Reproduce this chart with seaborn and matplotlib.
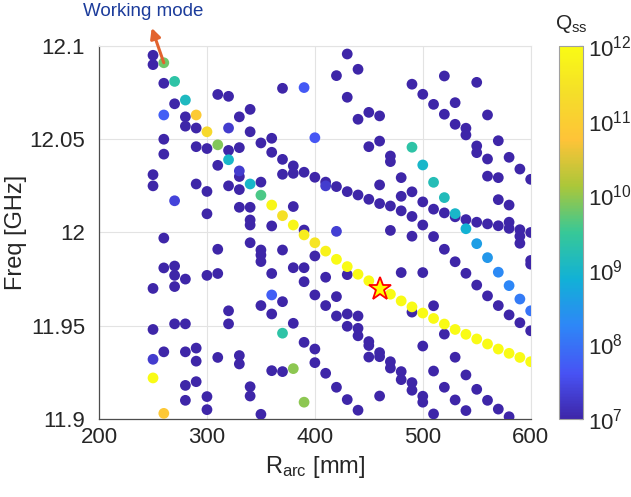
import matplotlib
matplotlib.use("Agg")
import matplotlib.pyplot as plt
import pandas as pd
import seaborn as sns
from matplotlib.colors import LinearSegmentedColormap, LogNorm
from matplotlib.cm import ScalarMappable

# working mode branch (arrow + star), log10(Q_ss)
wm_r = [260, 270, 280, 290, 300, 310, 320, 330, 340, 350, 360, 370, 380, 390, 400, 410,
        420, 430, 440, 450, 460, 470, 480, 490, 500, 510, 520, 530, 540, 550, 560, 570,
        580, 590, 600]
wm_f = [12.091, 12.081, 12.071, 12.063, 12.054, 12.047, 12.039, 12.033, 12.026, 12.020,
        12.0147, 12.009, 12.004, 11.9987, 11.9945, 11.990, 11.9856, 11.9817, 11.9776,
        11.9741, 11.9697, 11.9669, 11.9633, 11.9601, 11.9568, 11.9539, 11.9509, 11.948,
        11.9454, 11.9429, 11.9402, 11.9375, 11.9352, 11.933, 11.9307]
wm_logq = [9.8, 9.35, 9.1, 10.9, 11.25, 9.9, 9.0, 7.3, 9.0, 9.6, 11.9, 11.4, 11.9, 11.7,
           11.5, 11.8, 12, 12, 12, 12, 12, 12, 12, 12, 12, 12, 12, 12, 12, 12, 12, 12,
           12, 12, 12]

# second branch on the right (cyan -> blue)
hy_r = [490, 500, 510, 520, 530, 540, 550, 560, 570, 580, 590, 600]
hy_f = [12.0457, 12.0362, 12.0269, 12.0187, 12.0101, 12.002, 11.994, 11.9865, 11.9787,
        11.9715, 11.9643, 11.958]
hy_logq = [9.35, 9.0, 9.2, 9.15, 9.0, 8.9, 8.6, 8.5, 8.3, 8.25, 8.1, 8.0]

# single points above the floor
ex_r = [250, 250, 260, 260, 270, 320, 360, 370, 380, 390, 390, 400, 410, 420]
ex_f = [11.932, 11.922, 12.063, 11.903, 12.017, 12.056, 11.9665, 11.946, 11.927, 11.909,
        12.0777, 12.0508, 12.025, 12.0006]
ex_logq = [7.3, 12.0, 7.75, 10.85, 7.4, 7.3, 7.75, 9.35, 9.95, 9.95, 7.7, 7.65, 7.3, 7.35]

# low Q modes (at or below 1e7), one list per R_arc
low_cols = [250, 260, 270, 280, 290, 300, 310, 320, 330, 340, 350, 360, 370, 380, 390, 400,
            410, 420, 430, 440, 450, 460, 470, 480, 490, 500, 510, 520, 530, 540, 550, 560,
            570, 580, 590, 600]
low_f = [
    [12.095, 12.090, 12.031, 12.025, 11.970, 11.948],
    [12.080, 12.050, 12.042, 11.997, 11.981, 11.936],
    [12.069, 11.982, 11.977, 11.971, 11.951],
    [12.062, 12.057, 11.975, 11.951, 11.936, 11.918, 11.910],
    [12.056, 12.046, 12.026, 11.938, 11.931, 11.920],
    [12.045, 12.022, 12.010, 11.977, 11.912, 11.905],
    [12.074, 12.036, 11.991, 11.978, 11.933],
    [12.073, 12.044, 12.025, 11.958, 11.951],
    [12.062, 12.0455, 12.030, 12.023, 12.0135, 11.934, 11.9295],
    [12.066, 12.054, 12.0135, 12.0067, 12.004, 11.9945, 11.9173, 11.9123],
    [12.048, 12.027, 11.9906, 11.9879, 11.9844, 11.9608, 11.9025],
    [12.0505, 12.043, 12.0035, 11.978, 11.9563, 11.9259],
    [12.0773, 12.0392, 12.0312, 11.9906, 11.9629, 11.9254],
    [12.0357, 12.0317, 12.0139, 11.9811, 11.9513],
    [12.0323, 12.0013, 11.9811, 11.9736, 11.9411],
    [12.0296, 11.9874, 11.9665, 11.9375, 11.9302],
    [12.027, 11.976, 11.9608, 11.9245],
    [12.0841, 12.0246, 11.9656, 11.9552, 11.917],
    [12.0957, 12.0725, 12.0219, 11.9774, 11.9563, 11.9497, 11.9104],
    [12.0875, 12.0607, 12.0201, 11.9552, 11.9486, 11.9446, 11.9047],
    [12.0644, 12.046, 12.0178, 11.9415, 11.9394, 11.9332],
    [12.0625, 12.049, 12.0255, 12.0155, 11.9356, 11.9334, 11.9123],
    [12.041, 12.038, 12.0142, 12.0011, 11.9307, 11.9273],
    [12.0294, 12.0194, 12.0116, 11.9785, 11.9254, 11.9211],
    [12.0795, 12.0218, 12.0086, 11.998, 11.9573, 11.9195, 11.9154],
    [12.0741, 12.0164, 12.004, 11.9785, 11.9391, 11.9122, 11.909],
    [12.0687, 12.0125, 11.9978, 11.9607, 11.9257, 11.9027],
    [12.0839, 12.0634, 12.0105, 11.991, 11.9455, 11.917],
    [12.0696, 12.058, 12.0084, 11.9843, 11.9331, 11.9102],
    [12.0559, 12.0523, 12.0069, 11.9781, 11.9236, 11.9045],
    [12.0805, 12.0464, 12.0428, 12.0055, 11.9718, 11.9159],
    [12.063, 12.0394, 12.0302, 12.0046, 11.966, 11.910],
    [12.0492, 12.0294, 12.0176, 12.0036, 11.9608, 11.9053],
    [12.0403, 12.0147, 12.0055, 12.0022, 11.9558, 11.9012],
    [12.034, 12.0015, 11.998, 11.9942, 11.9516],
    [12.0285, 12.000, 11.985, 11.983, 11.9473],
]
low_logq = 7.0

star_r = 460  # chosen working point on the wm branch

# parula-like colormap
parula = LinearSegmentedColormap.from_list("parula", [
    (0.0, (0.2422, 0.1504, 0.6603)),
    (0.12, (0.2810, 0.3228, 0.9579)),
    (0.25, (0.1786, 0.5289, 0.9682)),
    (0.375, (0.0689, 0.6948, 0.8394)),
    (0.5, (0.2161, 0.7843, 0.5923)),
    (0.625, (0.6720, 0.7793, 0.2227)),
    (0.75, (0.9970, 0.7659, 0.2199)),
    (0.875, (0.9598, 0.8720, 0.1595)),
    (1.0, (0.9769, 0.9839, 0.0805)),
])

rows = []
for r, fs in zip(low_cols, low_f):
    for f in fs:
        rows.append((r, f, low_logq))
rows += list(zip(ex_r, ex_f, ex_logq))
rows += list(zip(hy_r, hy_f, hy_logq))
rows += list(zip(wm_r, wm_f, wm_logq))
df = pd.DataFrame(rows, columns=["r", "f", "logq"]).sort_values("logq", kind="stable")

sns.set_style("white")
plt.rcParams["font.family"] = ["Liberation Sans", "DejaVu Sans"]
plt.rcParams["mathtext.default"] = "regular"
txt = "#262626"

fig = plt.figure(figsize=(6.31, 4.97), dpi=100)
ax = fig.add_axes([0.157, 0.157, 0.684, 0.7505])
cax = fig.add_axes([0.886, 0.157, 0.038, 0.7505])

sns.scatterplot(data=df, x="r", y="f", hue="logq", palette=parula, hue_norm=(7, 12),
                s=60, linewidth=0, legend=False, ax=ax, zorder=3)

star_f = wm_f[wm_r.index(star_r)]
ax.plot(star_r, star_f, marker="*", ms=17, mfc="#ffff00", mec="red", mew=1.3,
        linestyle="none", zorder=5)

ax.set_xlim(200, 600)
ax.set_ylim(11.9, 12.1)
ax.set_xticks([200, 300, 400, 500, 600])
ax.set_yticks([11.9, 11.95, 12.0, 12.05, 12.1])
ax.set_yticklabels(["11.9", "11.95", "12", "12.05", "12.1"])
ax.grid(True, color="#e3e3e3", lw=0.8, zorder=0)
ax.set_axisbelow(True)
for side in ["left", "bottom"]:
    ax.spines[side].set_color("#4d4d4d")
    ax.spines[side].set_linewidth(0.9)
for side in ["top", "right"]:
    ax.spines[side].set_color("#e3e3e3")
ax.tick_params(direction="in", length=4, labelsize=16, colors=txt)
ax.tick_params(axis="x", pad=6)
ax.tick_params(axis="y", pad=10)
ax.set_xlabel("R$_{arc}$ [mm]", fontsize=17, color=txt, labelpad=4)
ax.set_ylabel("Freq [GHz]", fontsize=17, color=txt, labelpad=2)

ax.annotate("", xy=(248.8, 12.1097), xytext=(wm_r[0], wm_f[0]),
            arrowprops=dict(arrowstyle="-|>", color="#e2632e", lw=2.2,
                            mutation_scale=15, shrinkA=0, shrinkB=0),
            annotation_clip=False, zorder=6)
fig.text(0.227, 0.976, "Working mode", ha="center", va="center", fontsize=13.5,
         color="#1c3c9b")

sm = ScalarMappable(norm=LogNorm(1e7, 1e12), cmap=parula)
cbar = fig.colorbar(sm, cax=cax)
cbar.set_ticks([1e7, 1e8, 1e9, 1e10, 1e11, 1e12])
cbar.ax.tick_params(which="both", direction="in", labelsize=16, colors=txt)
cbar.ax.tick_params(which="major", length=3)
cbar.ax.tick_params(which="minor", length=1.5)
cbar.outline.set_edgecolor("#a0a0a0")
cbar.outline.set_linewidth(0.8)
fig.text(0.905, 0.952, "Q$_{ss}$", ha="center", va="center", fontsize=15, color=txt)

fig.savefig("out.png", dpi=100)
